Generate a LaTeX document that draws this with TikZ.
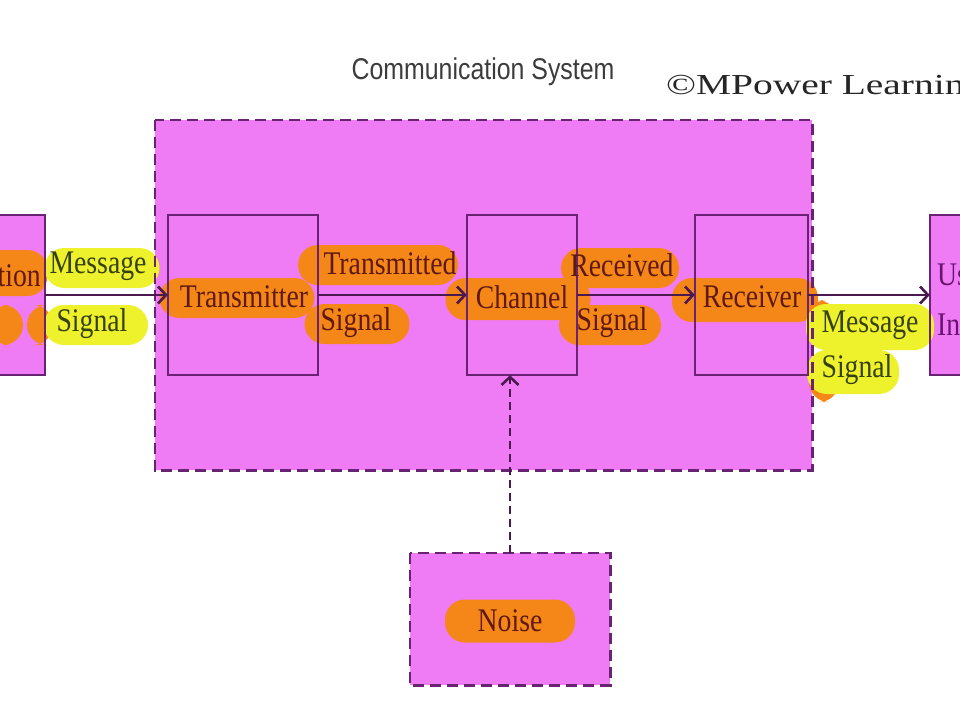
\documentclass[tikz,border=0pt]{standalone}
\usepackage{fontspec}
\setmainfont{Liberation Serif}
\newfontfamily\lblfont[FakeStretch=0.84]{Liberation Serif}
\newfontfamily\titlefont[FakeStretch=0.83]{Liberation Sans}
\newfontfamily\copyfont[FakeStretch=1.36]{Liberation Serif}
\usetikzlibrary{arrows.meta}
\definecolor{mag}{RGB}{240,124,245}
\definecolor{edge}{RGB}{105,35,115}
\definecolor{arr}{RGB}{75,25,80}
\definecolor{hlor}{RGB}{245,135,25}
\definecolor{hlye}{RGB}{238,242,45}
\definecolor{txbr}{RGB}{95,25,15}
\definecolor{txol}{RGB}{55,65,15}
\definecolor{txpu}{RGB}{105,20,115}
\definecolor{ttl}{RGB}{60,60,60}
\begin{document}
\begin{tikzpicture}[x=1pt,y=-1pt,
  boxfill/.style={rectangle, fill=mag, inner sep=0pt},
  boxedge/.style={draw=edge, line width=2pt},
  sysedge/.style={draw=edge, line width=2.6pt, dash pattern=on 11pt off 6pt},
  hlo/.style={rectangle, fill=hlor, rounded corners=20pt, inner sep=0pt},
  hly/.style={rectangle, fill=hlye, rounded corners=20pt, inner sep=0pt},
  lbl/.style={font=\lblfont\fontsize{33}{37}\selectfont, inner sep=0pt},
  arrowline/.style={draw=arr, line width=2.6pt, -{Straight Barb[length=8pt,width=17pt]}}
]
\useasboundingbox (0,0) rectangle (960,720);
\clip (0,0) rectangle (960,720);
\fill[white] (0,0) rectangle (960,720);

% box fills
\node[boxfill, minimum width=657pt, minimum height=350pt] (sys) at (483.5,295) {};
\node[boxfill, minimum width=200pt, minimum height=132pt] (noise) at (510,619) {};
\node[boxfill, minimum width=145pt, minimum height=160pt] (src) at (-27.5,295) {};
\node[boxfill, minimum width=150pt, minimum height=160pt] (tx) at (243,295) {};
\node[boxfill, minimum width=110pt, minimum height=160pt] (ch) at (522,295) {};
\node[boxfill, minimum width=113pt, minimum height=160pt] (rx) at (751.5,295) {};
\node[boxfill, minimum width=130pt, minimum height=160pt] (usr) at (995,295) {};

% highlights
\node[hlo, minimum width=65pt, minimum height=46pt] (h1) at (15,273) {};
\node[hlo, minimum width=34pt, minimum height=40pt] (h2) at (6,325) {};
\node[hlo, minimum width=26pt, minimum height=40pt] (h3) at (40,325) {};
\node[hly, minimum width=115pt, minimum height=40pt] (h4) at (102,268) {};
\node[hly, minimum width=104pt, minimum height=40pt] (h5) at (96,325) {};
\node[hlo, minimum width=155pt, minimum height=40pt] (h6) at (237,298) {};
\node[hlo, minimum width=160pt, minimum height=40pt] (h7) at (378,265) {};
\node[hlo, minimum width=105pt, minimum height=40pt] (h8) at (357,324) {};
\node[hlo, minimum width=145pt, minimum height=42pt] (h9) at (518,299) {};
\node[hlo, minimum width=118pt, minimum height=40pt] (h10) at (620,268) {};
\node[hlo, minimum width=102pt, minimum height=40pt] (h11) at (610,325) {};
\node[hlo, minimum width=146pt, minimum height=44pt] (h12) at (745,300) {};
\node[hlo, minimum width=30pt, minimum height=44pt] (h13) at (822,322) {};
\node[hlo, minimum width=30pt, minimum height=36pt] (h14) at (824,384) {};
\node[hly, minimum width=128pt, minimum height=46pt] (h15) at (870,327) {};
\node[hly, minimum width=92pt, minimum height=44pt] (h16) at (853,372) {};
\node[hlo, minimum width=130pt, minimum height=43pt] (h17) at (510,621) {};

% borders
\draw[sysedge] (sys.north west) rectangle (sys.south east);
\draw[sysedge] (noise.north west) rectangle (noise.south east);
\draw[boxedge] (src.north west) rectangle (src.south east);
\draw[boxedge] (tx.north west) rectangle (tx.south east);
\draw[boxedge] (ch.north west) rectangle (ch.south east);
\draw[boxedge] (rx.north west) rectangle (rx.south east);
\draw[boxedge] (usr.north west) rectangle (usr.south east);

% connectors
\draw[arrowline] (src.east) -- (tx.west);
\draw[arrowline] (tx.east) -- (ch.west);
\draw[arrowline] (ch.east) -- (rx.west);
\draw[arrowline] (rx.east) -- (usr.west);
\draw[arrowline, dash pattern=on 8pt off 5pt] (noise.north) -- (noise.north |- ch.south);

% texts
\node[lbl, text=txbr, anchor=east] (tsrc) at (41,275) {Information};
\node[lbl, text=txol] (t1) at (98,266) {Message};
\node[lbl, text=txol] (t2) at (92,324) {Signal};
\node[lbl, text=txbr] (t3) at (244,297) {Transmitter};
\node[lbl, text=txbr] (t4) at (390,263) {Transmitted};
\node[lbl, text=txbr] (t5) at (356,323) {Signal};
\node[lbl, text=txbr] (t6) at (522,297) {Channel};
\node[lbl, text=txbr] (t7) at (622,265) {Received};
\node[lbl, text=txbr] (t8) at (612,323) {Signal};
\node[lbl, text=txbr] (t9) at (752,297) {Receiver};
\node[lbl, text=txol] (t10) at (870,325) {Message};
\node[lbl, text=txol] (t11) at (857,370) {Signal};
\node[lbl, text=txbr] (t12) at (510,621) {Noise};
\node[lbl, text=txpu, anchor=west] (t13) at (937,275) {User};
\node[lbl, text=txpu, anchor=west] (t14) at (937,324) {Information};

\node[font=\titlefont\fontsize{30}{34}\selectfont, text=ttl, inner sep=0pt] (title) at (483,72) {Communication System};
\node[anchor=west, font=\copyfont\fontsize{29}{33}\selectfont, text=black!85, inner sep=0pt] (copy) at (666,88) {©MPower Learning};
\end{tikzpicture}
\end{document}
